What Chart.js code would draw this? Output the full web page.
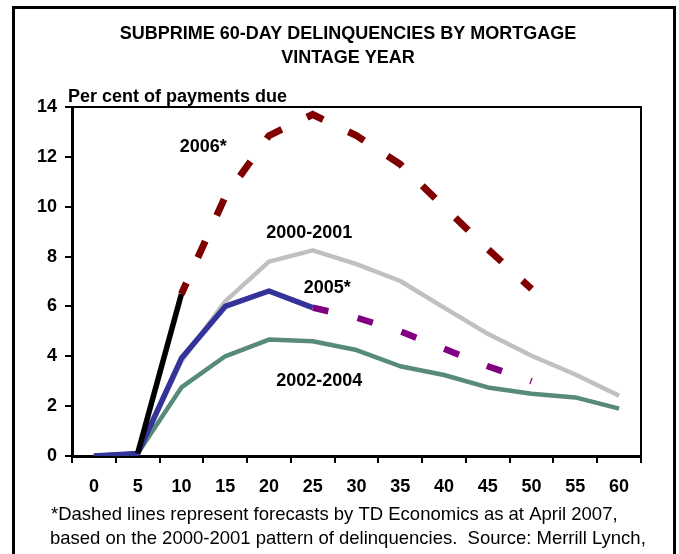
<!DOCTYPE html>
<html>
<head>
<meta charset="utf-8">
<script src="https://cdn.jsdelivr.net/npm/chart.js@4/dist/chart.umd.min.js"></script>
<style>
  html, body { margin: 0; padding: 0; background: #fff; }
  canvas { display: block; }
</style>
</head>
<body>
<canvas id="chart" width="679" height="554"></canvas>
<script>
// --- Data (months since origination) ---
const months = ["0", "5", "10", "15", "20", "25", "30", "35", "40", "45", "50", "55", "60"];
const yTicks = [0, 2, 4, 6, 8, 10, 12, 14];

const v2000_01 = [0, 0.1, 3.8, 6.2, 7.8, 8.25, 7.7, 7.02, 5.95, 4.9, 4.02, 3.27, 2.42];
const v2002_04 = [0, 0.1, 2.75, 4.0, 4.67, 4.6, 4.25, 3.6, 3.25, 2.75, 2.5, 2.35, 1.9];
const v2005 = [0, 0.1, 3.92, 6.0, 6.62, 5.95, null, null, null, null, null, null, null];
const v2005f = [null, null, null, null, null, 5.95, 5.55, 5.0, 4.3, 3.6, 3.0, null, null];
const v2006 = [null, 0.1, 6.5, null, null, null, null, null, null, null, null, null, null];
const v2006f = [null, null, 6.5, 10.4, 12.85, 13.7, 12.85, 11.7, 10.0, 8.3, 6.7, null, null];

// series labels: x = category index, y = value
const seriesLabels = [
  { text: "2006*", x: 2.5, y: 12.19 },
  { text: "2000-2001", x: 4.92, y: 8.74 },
  { text: "2005*", x: 5.33, y: 6.54 },
  { text: "2002-2004", x: 5.15, y: 2.81 },
];

const titleLines = ["SUBPRIME 60-DAY DELINQUENCIES BY MORTGAGE", "VINTAGE YEAR"];
const unitLabel = "Per cent of payments due";
const footLines = [
  "*Dashed lines represent forecasts by TD Economics as at April 2007,",
  "based on the 2000-2001 pattern of delinquencies.  Source: Merrill Lynch,",
];

const FONT = "'Liberation Sans', Arial, sans-serif";

// draws the frame, plot box, title, labels and footnote
const decorPlugin = {
  id: "decor",
  afterDraw(chart) {
    const ctx = chart.ctx;
    const area = chart.chartArea;
    const xs = chart.scales.x;
    const ys = chart.scales.y;
    ctx.save();

    // outer frame
    ctx.strokeStyle = "#000";
    ctx.lineWidth = 3;
    ctx.strokeRect(13.5, 7.5, 661, 620);

    // top and right side of plot box
    ctx.lineWidth = 2;
    ctx.beginPath();
    ctx.moveTo(area.left, area.top);
    ctx.lineTo(area.right, area.top);
    ctx.lineTo(area.right, area.bottom);
    ctx.stroke();

    ctx.fillStyle = "#000";
    ctx.textBaseline = "alphabetic";

    // title
    ctx.font = "bold 18px " + FONT;
    ctx.textAlign = "center";
    ctx.fillText(titleLines[0], 348, 38.5);
    ctx.fillText(titleLines[1], 348, 62.5);

    // unit label
    ctx.textAlign = "left";
    ctx.fillText(unitLabel, 68, 101.5);

    // series labels
    ctx.textAlign = "center";
    for (const lb of seriesLabels) {
      ctx.fillText(lb.text, xs.getPixelForValue(lb.x), ys.getPixelForValue(lb.y));
    }

    // footnote
    ctx.font = "18.5px " + FONT;
    ctx.textAlign = "left";
    ctx.fillText(footLines[0], 51, 520);
    ctx.fillText(footLines[1], 50, 544);

    ctx.restore();
  },
};

function lineSet(data, color, width, dash, dashOffset) {
  return {
    data,
    borderColor: color,
    backgroundColor: color,
    borderWidth: width,
    borderDash: dash || [],
    borderDashOffset: dashOffset || 0,
    borderCapStyle: "butt",
    borderJoinStyle: dash ? "miter" : "round",
    pointRadius: 0,
    pointHoverRadius: 0,
    tension: 0,
    spanGaps: false,
    fill: false,
  };
}

// dataset 0 is drawn on top
const datasets = [
  lineSet(v2006, "#000000", 5.5),
  lineSet(v2006f, "#800000", 7, [18, 28], 6),
  lineSet(v2005f, "#800080", 6.5, [16, 30], 0),
  lineSet(v2005, "#333399", 5.5),
  lineSet(v2000_01, "#c0c0c0", 4.5),
  lineSet(v2002_04, "#588a7a", 4.5),
];

new Chart(document.getElementById("chart"), {
  type: "line",
  data: { labels: months, datasets },
  options: {
    responsive: false,
    animation: false,
    layout: { padding: { top: 107, right: 38, left: 0, bottom: 0 } },
    plugins: {
      legend: { display: false },
      title: { display: false },
      tooltip: { enabled: false },
    },
    scales: {
      x: {
        offset: true,
        afterFit: (scale) => { scale.height = 98; },
        grid: {
          offset: true,
          drawOnChartArea: false,
          drawTicks: true,
          tickLength: 7,
          color: "#000",
          lineWidth: 2,
        },
        border: { display: true, color: "#000", width: 3 },
        ticks: {
          color: "#000",
          padding: 13,
          maxRotation: 0,
          autoSkip: false,
          font: { family: FONT, size: 18, weight: "bold" },
        },
      },
      y: {
        min: 0,
        max: 14,
        afterFit: (scale) => { scale.width = 72; },
        afterBuildTicks: (scale) => { scale.ticks = yTicks.map((v) => ({ value: v })); },
        grid: {
          drawOnChartArea: false,
          drawTicks: true,
          tickLength: 7,
          color: "#000",
          lineWidth: 2,
        },
        border: { display: true, color: "#000", width: 3 },
        ticks: {
          color: "#000",
          padding: 8,
          font: { family: FONT, size: 18, weight: "bold" },
        },
      },
    },
  },
  plugins: [decorPlugin],
});
</script>
</body>
</html>
